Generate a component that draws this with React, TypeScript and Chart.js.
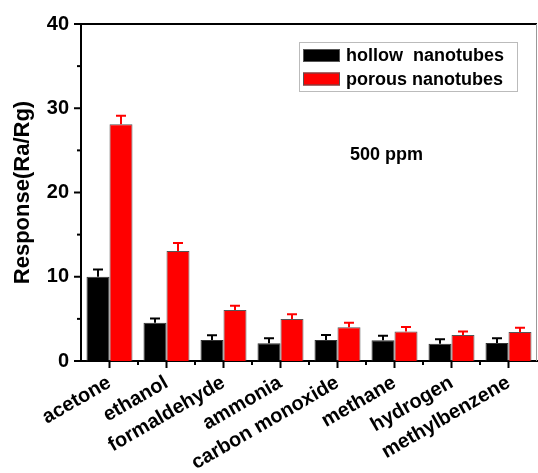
import React, { useEffect, useRef } from "react";
import { Chart, registerables } from "chart.js";

Chart.register(...registerables);

const categories = [
  "acetone",
  "ethanol",
  "formaldehyde",
  "ammonia",
  "carbon monoxide",
  "methane",
  "hydrogen",
  "methylbenzene",
];
const hollowValues = [10.0, 4.55, 2.5, 2.1, 2.5, 2.45, 2.05, 2.15];
const hollowErrors = [0.87, 0.5, 0.55, 0.6, 0.6, 0.55, 0.52, 0.55];
const porousValues = [28.1, 13.05, 6.05, 5.0, 4.0, 3.5, 3.1, 3.45];
const porousErrors = [1.0, 0.95, 0.5, 0.55, 0.55, 0.55, 0.4, 0.5];
const seriesNames = ["hollow  nanotubes", "porous nanotubes"];
const yTicks = [0, 10, 20, 30, 40];
const yMinorTicks = [5, 15, 25, 35];
const annotationText = "500 ppm";

const FONT = "'Liberation Sans', Arial, Helvetica, sans-serif";
const errorSets = [hollowErrors, porousErrors];
const errorColors = ["#000000", "#ff0000"];
const fillColors = ["#000000", "#ff0000"];

const decorPlugin = {
  id: "decor",
  afterDraw(chart: any) {
    const ctx = chart.ctx;
    const area = chart.chartArea;
    const xs = chart.scales.x;
    const ys = chart.scales.y;
    ctx.save();
    // frame top & right
    ctx.strokeStyle = "#000";
    ctx.lineWidth = 2;
    ctx.beginPath();
    ctx.moveTo(area.left, area.top);
    ctx.lineTo(area.right, area.top);
    ctx.stroke();
    ctx.strokeStyle = "#999";
    ctx.lineWidth = 1;
    ctx.beginPath();
    ctx.moveTo(area.right - 0.5, area.top);
    ctx.lineTo(area.right - 0.5, area.bottom);
    ctx.stroke();

    // y ticks
    ctx.strokeStyle = "#000";
    ctx.lineWidth = 2;
    for (const v of yTicks) {
      const y = ys.getPixelForValue(v);
      ctx.beginPath();
      ctx.moveTo(area.left - 7, y);
      ctx.lineTo(area.left, y);
      ctx.stroke();
    }
    for (const v of yMinorTicks) {
      const y = ys.getPixelForValue(v);
      ctx.beginPath();
      ctx.moveTo(area.left - 4, y);
      ctx.lineTo(area.left, y);
      ctx.stroke();
    }
    // x ticks
    for (let i = 0; i < categories.length; i++) {
      const x = xs.getPixelForValue(i);
      ctx.beginPath();
      ctx.moveTo(x, area.bottom);
      ctx.lineTo(x, area.bottom + 7);
      ctx.stroke();
      if (i < categories.length - 1) {
        const xm = (x + xs.getPixelForValue(i + 1)) / 2;
        ctx.beginPath();
        ctx.moveTo(xm, area.bottom);
        ctx.lineTo(xm, area.bottom + 4);
        ctx.stroke();
      }
    }

    // legend
    const lx = area.right - 238;
    const ly = area.top + 18;
    ctx.strokeStyle = "#bbbbbb";
    ctx.lineWidth = 1;
    ctx.strokeRect(lx + 0.5, ly + 0.5, 218, 49);
    ctx.font = `bold 18px ${FONT}`;
    ctx.textBaseline = "middle";
    ctx.textAlign = "left";
    for (let k = 0; k < 2; k++) {
      const rowY = ly + 13.5 + k * 23.5;
      ctx.fillStyle = fillColors[k];
      ctx.fillRect(lx + 4, rowY - 6.5, 37, 13);
      ctx.strokeStyle = "#555";
      ctx.strokeRect(lx + 4.5, rowY - 6, 36, 12);
      ctx.fillStyle = "#000";
      ctx.fillText(seriesNames[k], lx + 47, rowY + 1);
    }

    // annotation
    ctx.font = `bold 18px ${FONT}`;
    ctx.textAlign = "center";
    ctx.fillStyle = "#000";
    ctx.fillText(annotationText, area.left + 305.5, ys.getPixelForValue(24.4));
    ctx.restore();
  },
  afterDatasetsDraw(chart: any) {
    const ctx = chart.ctx;
    const ys = chart.scales.y;
    ctx.save();
    chart.data.datasets.forEach((ds: any, di: number) => {
      const meta = chart.getDatasetMeta(di);
      ctx.strokeStyle = errorColors[di];
      ctx.lineWidth = 2;
      meta.data.forEach((bar: any, i: number) => {
        const v = ds.data[i];
        const top = ys.getPixelForValue(v + errorSets[di][i]);
        const base = ys.getPixelForValue(v);
        ctx.beginPath();
        ctx.moveTo(bar.x, base);
        ctx.lineTo(bar.x, top);
        ctx.moveTo(bar.x - 5, top);
        ctx.lineTo(bar.x + 5, top);
        ctx.stroke();
      });
    });
    ctx.restore();
  },
};

export default function App() {
  const ref = useRef<HTMLCanvasElement>(null);
  useEffect(() => {
    document.body.style.margin = "0";
    const chart = new Chart(ref.current as HTMLCanvasElement, {
      type: "bar",
      data: {
        labels: categories,
        datasets: [
          {
            label: seriesNames[0],
            data: hollowValues,
            backgroundColor: fillColors[0],
            borderColor: "#333",
            borderWidth: 1,
          },
          {
            label: seriesNames[1],
            data: porousValues,
            backgroundColor: fillColors[1],
            borderColor: "#555",
            borderWidth: 1,
          },
        ],
      },
      options: {
        responsive: false,
        animation: false,
        layout: { padding: { top: 24, right: 1, left: 0, bottom: 0 } },
        datasets: {
          bar: { categoryPercentage: 0.807, barPercentage: 1.0 },
        },
        plugins: {
          legend: { display: false },
          tooltip: { enabled: false },
        },
        scales: {
          x: {
            grid: { display: false, drawTicks: false },
            border: { display: true, color: "#000", width: 2 },
            ticks: {
              color: "#000",
              font: { family: FONT, size: 20, weight: "bold" },
              minRotation: 30,
              maxRotation: 30,
              padding: 10,
              autoSkip: false,
            },
            afterFit(scale: any) {
              scale.height = 112;
            },
          },
          y: {
            min: 0,
            max: 40,
            grid: { display: false, drawTicks: false },
            border: { display: true, color: "#000", width: 2 },
            ticks: {
              stepSize: 10,
              color: "#000",
              font: { family: FONT, size: 20, weight: "bold" },
              padding: 12,
            },
            title: {
              display: true,
              text: "Response(Ra/Rg)",
              color: "#000",
              font: { family: FONT, size: 22, weight: "bold" },
              padding: { top: 10, bottom: 0 },
            },
            afterFit(scale: any) {
              scale.width = 81;
            },
          },
        },
      },
      plugins: [decorPlugin],
    } as any);
    return () => chart.destroy();
  }, []);
  return (
    <div style={{ width: 538, height: 473 }}>
      <canvas ref={ref} width={538} height={473} />
    </div>
  );
}
